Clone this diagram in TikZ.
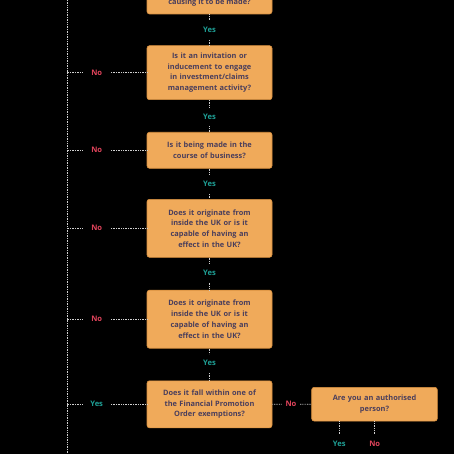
\documentclass[tikz,border=0pt]{standalone}
\usepackage{fontspec}
\setmainfont{Open Sans}
\definecolor{boxfill}{HTML}{F0AA5A}
\definecolor{boxline}{HTML}{D9903F}
\definecolor{boxtext}{HTML}{4A3E5C}
\definecolor{yescol}{HTML}{1FA096}
\definecolor{nocol}{HTML}{E2445C}
\definecolor{dotcol}{HTML}{D0D0D0}
\tikzset{
  qbox/.style={rectangle, rounded corners=2.5pt, fill=boxfill, draw=boxline, line width=0.6pt,
    minimum width=125pt, text width=118pt, align=center, inner sep=0pt,
    font=\fontsize{7.4pt}{10.7pt}\selectfont\bfseries, text=boxtext},
  btext/.style={inner sep=0pt, font=\fontsize{7.4pt}{10.7pt}\selectfont\bfseries, text=boxtext},
  lab/.style={inner sep=0pt, font=\fontsize{7.6pt}{10pt}\selectfont\bfseries},
  yeslab/.style={lab, text=yescol},
  nolab/.style={lab, text=nocol},
  vlab/.style={minimum height=19pt, minimum width=14pt},
  hlab/.style={minimum width=28pt, minimum height=10pt},
  hlabs/.style={minimum width=18pt, minimum height=10pt},
  dline/.style={draw=dotcol, line width=0.7pt, dash pattern=on 0.8pt off 0.9pt},
}
\begin{document}
\begin{tikzpicture}[x=1pt,y=-1pt]
\useasboundingbox[fill=black] (0,0) rectangle (454,454);
\clip (0,0) rectangle (454,454);
% boxes
\node[qbox, minimum height=60pt, anchor=south] (b1) at (209.5,14.3) {};
\node[btext, anchor=base] (t1) at (209.5,4.2) {causing it to be made?};
\node[qbox, minimum height=54pt] (b2) at (209.5,72.7) {Is it an invitation or\\inducement to engage\\in investment/claims\\management activity?};
\node[qbox, minimum height=36pt] (b3) at (209.5,150.3) {Is it being made in the\\course of business?};
\node[qbox, minimum height=58pt] (b4) at (209.5,228.3) {Does it originate from\\inside the UK or is it\\capable of having an\\effect in the UK?};
\node[qbox, minimum height=58pt] (b5) at (209.5,319.2) {Does it originate from\\inside the UK or is it\\capable of having an\\effect in the UK?};
\node[qbox, minimum height=47pt] (b6) at (209.5,404.3) {Does it fall within one of\\the Financial Promotion\\Order exemptions?};
\node[qbox, minimum width=125.6pt, minimum height=33.7pt] (b7) at (374.5,404.2) {Are you an authorised\\person?};
% vertical yes labels
\node[yeslab, vlab] (y1) at (209.5,30.3) {Yes};
\node[yeslab, vlab] (y2) at (209.5,116.7) {Yes};
\node[yeslab, vlab] (y3) at (209.5,184.3) {Yes};
\node[yeslab, vlab] (y4) at (209.5,273) {Yes};
\node[yeslab, vlab] (y5) at (209.5,363.3) {Yes};
\draw[dline] (b1.south) -- (y1.north) (y1.south) -- (b2.north);
\draw[dline] (b2.south) -- (y2.north) (y2.south) -- (b3.north);
\draw[dline] (b3.south) -- (y3.north) (y3.south) -- (b4.north);
\draw[dline] (b4.south) -- (y4.north) (y4.south) -- (b5.north);
\draw[dline] (b5.south) -- (y5.north) (y5.south) -- (b6.north);
% left spine
\coordinate (top) at (67,-5);
\coordinate (bot) at (67,460);
\draw[dline] (top) -- (bot);
\node[nolab, hlab] (n2) at (96.7,72.7) {No};
\node[nolab, hlab] (n3) at (96.7,150.3) {No};
\node[nolab, hlab] (n4) at (96.7,228.3) {No};
\node[nolab, hlab] (n5) at (96.7,319.2) {No};
\node[yeslab, hlab] (n6) at (96.7,404.3) {Yes};
\foreach \n/\b in {n2/b2,n3/b3,n4/b4,n5/b5,n6/b6}{
  \draw[dline] (\n.west) -- (\n.west -| top) (\n.east) -- (\b.west);
}
% right branch
\node[nolab, hlabs] (r6) at (291,404.3) {No};
\draw[dline] (b6.east) -- (r6.west) (r6.east) -- (b7.west);
\node[yeslab, vlab, minimum height=18pt] (ry) at (339.3,444) {Yes};
\node[nolab, vlab, minimum height=18pt] (rn) at (374.7,444) {No};
\draw[dline] (ry.north |- b7.south) -- (ry.north);
\draw[dline] (rn.north |- b7.south) -- (rn.north);
\end{tikzpicture}
\end{document}
